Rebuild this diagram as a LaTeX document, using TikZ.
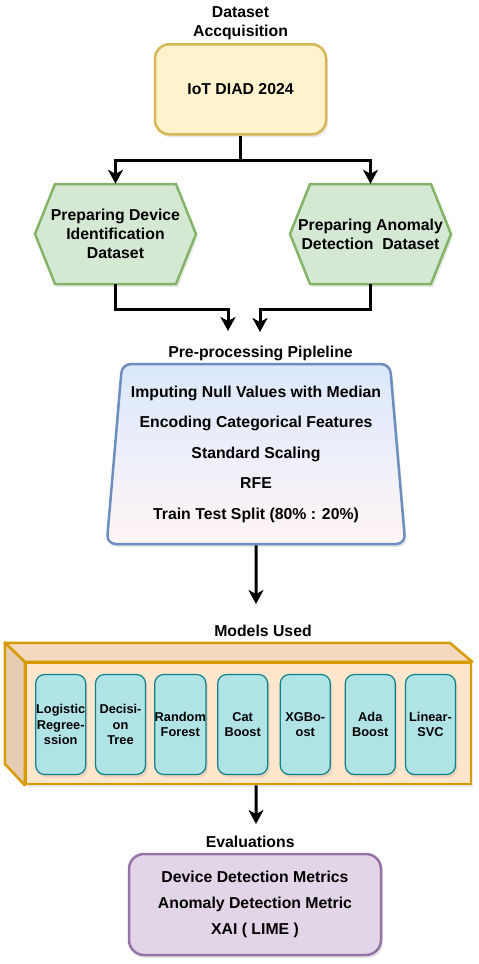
\documentclass[tikz,border=0pt]{standalone}
\usepackage{fontspec}
\setmainfont{Liberation Sans}
\usetikzlibrary{arrows.meta,shapes.geometric,shadows}
\definecolor{iotfill}{HTML}{FFF2CC}
\definecolor{iotline}{HTML}{D6B656}
\definecolor{hexfill}{HTML}{D5E8D4}
\definecolor{hexline}{HTML}{82B366}
\definecolor{preptop}{HTML}{DAE8FC}
\definecolor{prepbot}{HTML}{FFF5F5}
\definecolor{prepline}{HTML}{6C8EBF}
\definecolor{cubefront}{HTML}{FFE6CC}
\definecolor{cubetop}{HTML}{F2D9BF}
\definecolor{cubeside}{HTML}{E6CCB3}
\definecolor{cubeline}{HTML}{D79B00}
\definecolor{modelfill}{HTML}{B0E3E6}
\definecolor{modelline}{HTML}{0E8088}
\definecolor{evalfill}{HTML}{E1D5E7}
\definecolor{evalline}{HTML}{9673A6}
\pgfdeclarelayer{background}
\pgfsetlayers{background,main}

\begin{document}
\begin{tikzpicture}[x=1pt,y=1pt,yscale=-1,xscale=1,
  font=\bfseries\fontsize{15.8}{19}\selectfont,
  arr/.style={line width=3pt,-{Stealth[length=14pt,width=15pt,inset=4pt]}},
  softshadow/.style={drop shadow={opacity=0.18,shadow xshift=2pt,shadow yshift=-3pt}},
  titletext/.style={inner sep=0pt,align=center},
  iotbox/.style={draw=iotline,fill=iotfill,line width=2.5pt,rounded corners=14pt,minimum width=171pt,minimum height=90pt,softshadow},
  hexlabel/.style={inner sep=0pt,align=center,minimum width=121.5pt,minimum height=100pt},
  hexbox/.style={draw=hexline,fill=hexfill,line width=2.5pt},
  prepbox/.style={trapezium,trapezium stretches=true,trapezium left angle=84.1,trapezium right angle=84.1,minimum width=299pt,minimum height=180pt,inner sep=2pt,draw=prepline,line width=2.5pt,rounded corners=9pt,top color=preptop,bottom color=prepbot,align=center,font=\bfseries\fontsize{15.8}{30.5}\selectfont,softshadow},
  cubebox/.style={draw=cubeline,fill=cubefront,line width=2.5pt,minimum width=445pt,minimum height=121pt,inner sep=0pt,softshadow},
  cubeface/.style={draw=cubeline,line width=2.5pt,line join=round},
  modelbox/.style={draw=modelline,fill=modelfill,line width=1.2pt,rounded corners=9pt,minimum width=50pt,minimum height=100pt,inner sep=0pt,align=center,font=\bfseries\fontsize{12.8}{15.3}\selectfont,softshadow},
  evalbox/.style={draw=evalline,fill=evalfill,line width=2.5pt,rounded corners=15pt,minimum width=252pt,minimum height=101pt,align=center,font=\bfseries\fontsize{15.8}{26}\selectfont,softshadow},
]
\useasboundingbox (0,0) rectangle (479,964);

\node[titletext] (acqtitle) at (240.5,23) {Dataset\\Accquisition};
\node[iotbox] (iot) at (240.5,89.3) {IoT DIAD 2024};

\node[hexlabel] (devprep) at (115.5,234) {Preparing Device\\Identification\\Dataset};
\node[hexlabel] (anomprep) at (370.5,234) {Preparing Anomaly\\Detection~ Dataset};
\begin{pgfonlayer}{background}
\foreach \n in {devprep,anomprep}
  \path[hexbox,softshadow] ([xshift=-80.5pt]\n.center) -- ++(20,-50) -- ++(121,0) -- ++(20,50) -- ++(-20,50) -- ++(-121,0) -- cycle;
\end{pgfonlayer}

\draw[arr] (iot.south) -- ++(0,25) -| (devprep.north);
\draw[arr] (iot.south) -- ++(0,25) -| (anomprep.north);

\coordinate (prepinL) at (228,331);
\coordinate (prepinR) at (260,332);
\draw[arr] (devprep.south) -- ++(0,25) -| (prepinL);
\draw[arr] (anomprep.south) -- ++(0,25) -| (prepinR);

\node[titletext] (preptitle) at (260.5,353) {Pre-processing Pipleline};
\node[prepbox] (prep) at (256,454) {Imputing Null Values with Median\\Encoding Categorical Features\\Standard Scaling\\RFE\\Train Test Split (80\% : 20\%)};

\coordinate (modelsin) at (256,604);
\draw[arr] (prep.south) -- (modelsin);

% models block
\node[titletext] (modeltitle) at (263,631) {Models Used};
\node[cubebox] (models) at (248.5,723.5) {};
\begin{pgfonlayer}{background}
\path[cubeface,fill=cubetop] (models.north west) -- ++(-20,-19) -- ++(445,0) -- (models.north east) -- cycle;
\path[cubeface,fill=cubeside] (models.north west) -- ++(-20,-19) -- ++(0,121) -- (models.south west) -- cycle;
\end{pgfonlayer}
\foreach \x/\name/\txt in {60.7/logreg/{Logistic\\Regree-\\ssion},120.5/dtree/{Decisi-\\on\\Tree},180.3/rforest/{Random\\Forest},242.7/catb/{Cat\\Boost},305.3/xgb/{XGBo-\\ost},370.3/adab/{Ada\\Boost},430.5/lsvc/{Linear-\\SVC}}
  \node[modelbox] (\name) at (\x,724.5) {\txt};

\coordinate (evalin) at (256,824);
\draw[arr] (prep.south |- models.south) -- (evalin);

\node[titletext] (evaltitle) at (250.2,842) {Evaluations};
\node[evalbox] (evals) at (255,904.5) {Device Detection Metrics\\Anomaly Detection Metric\\XAI ( LIME )};

\end{tikzpicture}
\end{document}
